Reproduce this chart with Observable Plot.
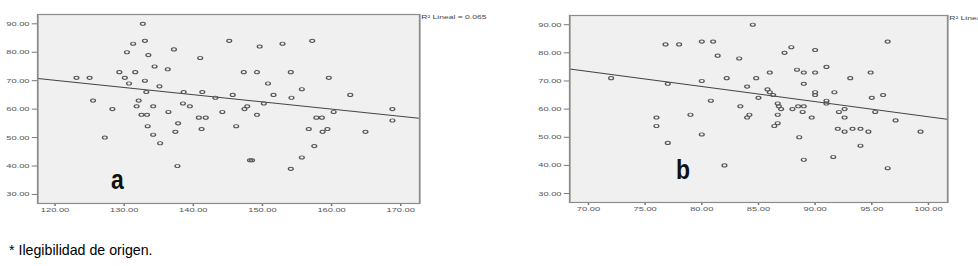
<!DOCTYPE html>
<html><head><meta charset="utf-8">
<script src="https://cdn.jsdelivr.net/npm/d3@7"></script>
<script src="https://cdn.jsdelivr.net/npm/@observablehq/plot@0.6"></script>
<style>
html,body{margin:0;padding:0;background:#fff;width:978px;height:266px;overflow:hidden;}
#wrap{position:relative;width:978px;height:266px;}
.panel{position:absolute;top:0;transform-origin:0 0;transform:scaleX(1.5);}
.tag{position:absolute;font:bold 27px "Liberation Sans",Arial,sans-serif;color:#111;line-height:28px;transform:scaleX(0.85);transform-origin:0 0;}
#caption{position:absolute;left:9px;top:242px;font:14.2px "Liberation Sans",Arial,sans-serif;color:#000;white-space:nowrap;}
</style></head><body>
<div id="wrap">
  <div id="pa" class="panel" style="left:0px"></div>
  <div id="pb" class="panel" style="left:500px"></div>
  <div class="tag" style="left:111px;top:166px">a</div>
  <div class="tag" style="left:676px;top:156px">b</div>
  <div id="caption">* Ilegibilidad de origen.</div>
</div>
<script>
// ---- data ----
const xA = [132.7,133,131.3,145.2,137.2,130.4,133.5,141,134.4,136.3,129.3,131.6,123.1,125,130.1,133,130.7,135.1,133.2,138.6,141.3,143.2,145.7,125.5,132.1,138.5,131.8,134.2,139.5,128.3,136.4,144.2,132.5,133.3,140.8,141.8,137.8,133.4,141.2,137.4,134.2,127.2,135.2,137.7,
  149.6,152.9,157.2,147.3,149.2,154.1,159.6,150.8,155.7,151.6,162.7,154.2,150.2,147.8,147.4,160.3,168.8,149.2,157.8,158.6,168.8,146.2,156.7,159.4,158.7,164.9,157.5,155.7,148.2,148.5,154.1];
const yA = [90,84,83,84,81,80,79,78,75,74,73,73,71,71,71,70,69,68,66,66,66,64,65,63,63,62,61,61,61,60,59,59,58,58,57,57,55,54,53,52,51,50,48,40,
  82,83,84,73,73,73,71,69,67,65,65,64,62,61,60,59,60,58,57,57,56,54,53,53,52,52,47,43,42,42,39];
const xB = [84.5,76.8,78,80,81,81.4,83.3,72,77,80,82.2,84.8,84,85,80.8,83.4,79,84.2,84,76,76,80,77,82,
  87.9,87.3,90,96.4,91,86,88.4,89,90,94.9,93.1,89,85.8,86,86.3,90,90,91.7,95,96,91,91,86.7,86.8,87,88,88.5,89,88.9,92.1,92.6,95.3,86.7,89.7,92.6,97.1,86.7,86.4,92,92.6,93.3,94,94.7,99.3,88.6,94,91.6,89,96.4];
const yB = [90,83,83,84,84,79,78,71,69,70,71,71,68,64,63,61,58,58,57,57,54,51,48,40,
  82,80,81,84,75,73,74,73,73,73,71,69,67,66,65,66,65,66,64,65,63,62,62,61,60,60,61,61,59,59,60,59,58,57,57,56,55,54,53,52,53,53,52,52,50,47,43,42,39];
// fitted lines (SPSS "Lineal"): [intercept, slope]
const fitA = [100.5, -0.253];
const fitB = [111.0, -0.537];
const ticksXA = [120,130,140,150,160,170];
const ticksXB = [70,75,80,85,90,95,100];
const ticksY = [30,40,50,60,70,80,90];
const labelA = "R² Lineal = 0.065";
const labelB = "R² Lineal = 0.065";

// ---- drawing ----
const S = 1.5; // horizontal stretch of the original picture
const yDomain = [26.82, 93.27];
const fmt = d3.format(".2f");

function panel(xs, ys, f, xDomain, xTicks, label, box) {
  const data = xs.map((x, i) => ({x, y: ys[i]}));
  const reg = xDomain.map(x => ({x, y: f[0] + f[1] * x}));
  return Plot.plot({
    width: box.width / S,
    height: 230,
    marginLeft: box.left / S,
    marginRight: box.right / S,
    marginTop: box.top,
    marginBottom: 230 - box.bottom,
    style: {background: "transparent", fontFamily: "'Liberation Sans', Arial, sans-serif", fontSize: "6.2px", color: "#555", overflow: "hidden"},
    x: {domain: xDomain},
    y: {domain: yDomain},
    marks: [
      Plot.frame({fill: "#f0f0f0", stroke: "none"}),
      Plot.axisX({ticks: xTicks, tickFormat: fmt, tickSize: 3, tickPadding: 1, stroke: "#777", label: null, fill: "#555"}),
      Plot.axisY({ticks: ticksY, tickFormat: fmt, tickSize: 3.5, tickPadding: 2, stroke: "#777", label: null, fill: "#555"}),
      Plot.line(reg, {x: "x", y: "y", stroke: "#444", strokeWidth: 1, clip: true}),
      Plot.dot(data, {x: "x", y: "y", r: 1.6, stroke: "#555", strokeWidth: 0.9, fill: "none"}),
      Plot.frame({stroke: "#8c8c8c", strokeWidth: 1.2}),
      Plot.text([label], {text: d => d, frameAnchor: "top-right", textAnchor: "start", lineAnchor: "top", dx: 1, dy: 0, fontSize: 5.7, fill: "#444"})
    ]
  });
}

document.getElementById("pa").append(
  panel(xA, yA, fitA, [117.5, 172.75], ticksXA, labelA, {width: 490, left: 37, right: 490 - 419, top: 14, bottom: 203})
);
document.getElementById("pb").append(
  panel(xB, yB, fitB, [68.35, 101.7], ticksXB, labelB, {width: 478, left: 69, right: 478 - 447, top: 15, bottom: 202})
);
</script>
</body></html>
